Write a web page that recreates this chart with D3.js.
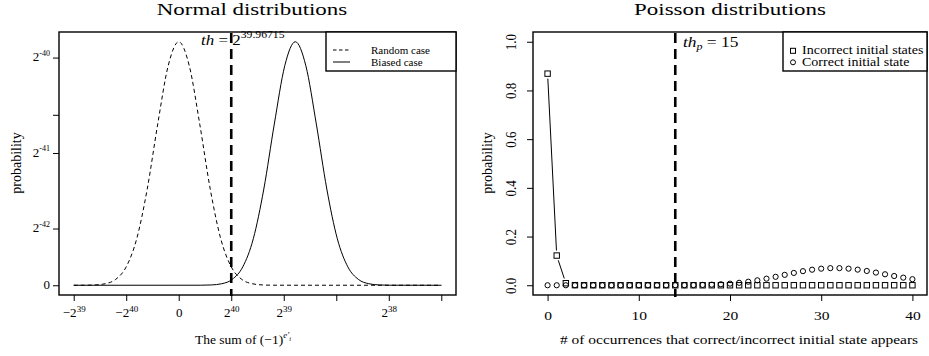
<!DOCTYPE html>
<html>
<head>
<meta charset="utf-8">
<script src="https://cdn.jsdelivr.net/npm/d3@7"></script>
<style>
body { margin: 0; background: #fff; }
svg text { font-family: "Liberation Serif", serif; fill: #000; }
</style>
</head>
<body>
<div id="chart"></div>
<script>
// left panel: normal curves, heights as a fraction of the peak
var randomX = [-2, -1.8, -1.6, -1.4, -1.2, -1.0, -0.8, -0.6, -0.4, -0.2, 0, 0.2, 0.4, 0.6, 0.8, 1.0, 1.2, 1.4, 1.6, 1.8, 5];
var randomY = [0, 0.0002, 0.0013, 0.0063, 0.0243, 0.0756, 0.191, 0.395, 0.662, 0.902, 1, 0.902, 0.662, 0.395, 0.191, 0.0756, 0.0243, 0.0063, 0.0013, 0.0002, 0];
var biasedX = [-2, 0.42, 0.62, 0.82, 1.02, 1.22, 1.42, 1.62, 1.82, 2.02, 2.22, 2.42, 2.62, 2.82, 3.02, 3.22, 3.42, 3.62, 3.82, 4.02, 5];
var biasedY = [0, 0.0002, 0.0013, 0.0063, 0.0243, 0.0756, 0.191, 0.395, 0.662, 0.902, 1, 0.902, 0.662, 0.395, 0.191, 0.0756, 0.0243, 0.0063, 0.0013, 0.0002, 0];
var normalThreshold = 1;
var normalXTicks = [-2, -1, 0, 1, 2, 3, 4, 5];
var normalXLabels = [['\u22122', '39'], ['\u22122', '40'], ['0', ''], ['2', '40'], ['2', '39'], ['', ''], ['2', '38'], ['', '']];
var normalYTicks = [0, 0.233, 0.543, 0.70, 0.935];
var normalYLabels = [['0', ''], ['2', '-42'], ['2', '-41'], ['', ''], ['2', '-40']];

// right panel: poisson probabilities
var occurrences = d3.range(0, 41);
var incorrectProb = [0.869, 0.122, 0.0085, 0.0004, 0, 0, 0, 0, 0, 0, 0, 0, 0, 0, 0, 0, 0, 0, 0, 0, 0,
    0, 0, 0, 0, 0, 0, 0, 0, 0, 0, 0, 0, 0, 0, 0, 0, 0, 0, 0, 0];
var correctProb = [0, 0, 0, 0, 0, 0, 0, 0, 0, 0, 0, 0, 0, 0, 0.0002, 0.0004, 0.0007, 0.0014, 0.0025, 0.0041,
    0.0066, 0.0101, 0.0146, 0.0203, 0.0271, 0.0347, 0.0427, 0.0506, 0.0579, 0.0639, 0.0681,
    0.0703, 0.0703, 0.0682, 0.0642, 0.0587, 0.0521, 0.0451, 0.0380, 0.0312, 0.0249];
var poissonThreshold = 14;
var poissonXTicks = [0, 10, 20, 30, 40];
var poissonYTicks = [0, 0.2, 0.4, 0.6, 0.8, 1.0];

var svg = d3.select('#chart')
    .append('svg')
    .attr('width', 929)
    .attr('height', 356);

function drawBox(x0, y0, x1, y1) {
    svg.append('rect')
        .attr('x', x0).attr('y', y0)
        .attr('width', x1 - x0).attr('height', y1 - y0)
        .attr('fill', 'none')
        .attr('stroke', '#000')
        .attr('stroke-width', 1.4);
}

// the reference text is wider than Times, so widen it round its anchor
function stretch(sel, k) {
    var x = +sel.attr('x') || 0, y = +sel.attr('y') || 0;
    sel.attr('transform', 'translate(' + x + ',' + y + ') scale(' + k + ',1) translate(' + (-x) + ',' + (-y) + ')');
    return sel;
}

// label with a superscript part
function supLabel(sel, base, sup, size, supSize) {
    sel.text(null);
    sel.append('tspan').attr('font-size', size).text(base);
    if (sup !== '') {
        sel.append('tspan').attr('font-size', supSize).attr('dy', -size * 0.42).text(sup);
    }
}

// ---------- left panel ----------
var lx = d3.scaleLinear().domain([-2.28, 5.28]).range([59, 456]);
var ly = d3.scaleLinear().domain([-0.04, 1.04]).range([295, 32]);

var gx = svg.append('g')
    .attr('transform', 'translate(0,295)')
    .call(d3.axisBottom(lx).tickValues(normalXTicks).tickSize(6).tickPadding(9).tickFormat(''));
gx.select('.domain').remove();
gx.selectAll('.tick text').each(function(d, i) {
    supLabel(d3.select(this), normalXLabels[i][0], normalXLabels[i][1], 13, 9);
});

var gy = svg.append('g')
    .attr('transform', 'translate(59,0)')
    .call(d3.axisLeft(ly).tickValues(normalYTicks).tickSize(6).tickPadding(3).tickFormat(''));
gy.select('.domain').remove();
gy.selectAll('.tick text').each(function(d, i) {
    supLabel(d3.select(this), normalYLabels[i][0], normalYLabels[i][1], 13, 8);
});

var curve = d3.line()
    .x(function(d) { return lx(d[0]); })
    .y(function(d) { return ly(d[1]); })
    .curve(d3.curveMonotoneX);

svg.append('path')
    .attr('d', curve(d3.zip(randomX, randomY)))
    .attr('fill', 'none')
    .attr('stroke', '#000')
    .attr('stroke-width', 1)
    .attr('stroke-dasharray', '4,3');

svg.append('path')
    .attr('d', curve(d3.zip(biasedX, biasedY)))
    .attr('fill', 'none')
    .attr('stroke', '#000')
    .attr('stroke-width', 1);

svg.append('line')
    .attr('x1', lx(normalThreshold)).attr('x2', lx(normalThreshold))
    .attr('y1', 33).attr('y2', 296)
    .attr('stroke', '#000')
    .attr('stroke-width', 2.6)
    .attr('stroke-dasharray', '10,6');

drawBox(59, 32, 456, 295);

var th = svg.append('text').attr('x', 201).attr('y', 45).attr('font-size', 14.5);
th.append('tspan').attr('font-style', 'italic').text('th');
th.append('tspan').text(' = 2');
th.append('tspan').attr('font-size', 10).attr('dy', -6.5).text('39.96715');
stretch(th, 1.17);

// legend
svg.append('rect')
    .attr('x', 326).attr('y', 32).attr('width', 130).attr('height', 39)
    .attr('fill', '#fff').attr('stroke', '#000').attr('stroke-width', 1.4);
svg.append('line')
    .attr('x1', 333).attr('x2', 350).attr('y1', 50).attr('y2', 50)
    .attr('stroke', '#000').attr('stroke-dasharray', '3.5,2.5');
svg.append('line')
    .attr('x1', 333).attr('x2', 350).attr('y1', 62).attr('y2', 62)
    .attr('stroke', '#000');
svg.append('text').attr('x', 371).attr('y', 53.8).attr('font-size', 11).text('Random case');
svg.append('text').attr('x', 371).attr('y', 65.8).attr('font-size', 11).text('Biased case');

stretch(svg.append('text')
    .attr('x', 252).attr('y', 15)
    .attr('text-anchor', 'middle')
    .attr('font-size', 17)
    .text('Normal distributions'), 1.35);

var xl = svg.append('text').attr('x', 195).attr('y', 344).attr('font-size', 13.5);
xl.append('tspan').text('The sum of (\u22121)');
xl.append('tspan').attr('font-size', 9).attr('font-style', 'italic').attr('dy', -6).text('e\u2032');
xl.append('tspan').attr('font-size', 6.5).attr('font-style', 'italic').attr('dy', 3).text('i');

svg.append('text')
    .attr('transform', 'translate(21,163) rotate(-90)')
    .attr('text-anchor', 'middle')
    .attr('font-size', 14)
    .text('probability');

// ---------- right panel ----------
var rx = d3.scaleLinear().domain([-1.6, 41.6]).range([533, 927]);
var ry = d3.scaleLinear().domain([-0.04, 1.04]).range([295, 32]);

var rgx = svg.append('g')
    .attr('transform', 'translate(0,295)')
    .call(d3.axisBottom(rx).tickValues(poissonXTicks).tickSize(6).tickPadding(9).tickFormat(d3.format('d')));
rgx.select('.domain').remove();
rgx.selectAll('.tick text')
    .attr('font-size', 13.5)
    .attr('transform', 'scale(1.15,1)');

var rgy = svg.append('g')
    .attr('transform', 'translate(533,0)')
    .call(d3.axisLeft(ry).tickValues(poissonYTicks).tickSize(6).tickFormat(d3.format('.1f')));
rgy.select('.domain').remove();
rgy.selectAll('.tick text')
    .attr('font-size', 13)
    .attr('x', null).attr('dy', null)
    .attr('text-anchor', 'middle')
    .attr('transform', 'translate(-17,0) rotate(-90) scale(1,1.15)');

svg.append('line')
    .attr('x1', rx(poissonThreshold)).attr('x2', rx(poissonThreshold))
    .attr('y1', 33).attr('y2', 297)
    .attr('stroke', '#000')
    .attr('stroke-width', 2.6)
    .attr('stroke-dasharray', '10,6');

// lines between points (R type "b": gap round each symbol)
function gapLines(values) {
    var gap = 5;
    for (var i = 0; i < values.length - 1; i++) {
        var x1 = rx(occurrences[i]), y1 = ry(values[i]);
        var x2 = rx(occurrences[i + 1]), y2 = ry(values[i + 1]);
        var len = Math.sqrt((x2 - x1) * (x2 - x1) + (y2 - y1) * (y2 - y1));
        if (len > 2 * gap + 1) {
            var ux = (x2 - x1) / len, uy = (y2 - y1) / len;
            svg.append('line')
                .attr('x1', x1 + ux * gap).attr('y1', y1 + uy * gap)
                .attr('x2', x2 - ux * gap).attr('y2', y2 - uy * gap)
                .attr('stroke', '#000').attr('stroke-width', 1);
        }
    }
}
gapLines(incorrectProb);
gapLines(correctProb);

svg.append('g')
    .selectAll('circle')
    .data(correctProb)
    .enter()
    .append('circle')
    .attr('cx', function(d, i) { return rx(occurrences[i]); })
    .attr('cy', function(d) { return ry(d); })
    .attr('r', 2.6)
    .attr('fill', 'none')
    .attr('stroke', '#000')
    .attr('stroke-width', 1);

svg.append('g')
    .selectAll('rect')
    .data(incorrectProb)
    .enter()
    .append('rect')
    .attr('x', function(d, i) { return rx(occurrences[i]) - 2.7; })
    .attr('y', function(d) { return ry(d) - 2.7; })
    .attr('width', 5.4)
    .attr('height', 5.4)
    .attr('fill', 'none')
    .attr('stroke', '#000')
    .attr('stroke-width', 1);

drawBox(533, 32, 927, 295);

var thp = svg.append('text').attr('x', 683).attr('y', 47).attr('font-size', 14.5);
thp.append('tspan').attr('font-style', 'italic').text('th');
thp.append('tspan').attr('font-style', 'italic').attr('font-size', 10).attr('dy', 3).text('p');
thp.append('tspan').attr('dy', -3).text(' = 15');
stretch(thp, 1.2);

// legend
svg.append('rect')
    .attr('x', 783).attr('y', 32).attr('width', 144).attr('height', 39)
    .attr('fill', '#fff').attr('stroke', '#000').attr('stroke-width', 1.4);
svg.append('rect')
    .attr('x', 790.5).attr('y', 48.3).attr('width', 5).attr('height', 5)
    .attr('fill', 'none').attr('stroke', '#000');
svg.append('circle')
    .attr('cx', 793).attr('cy', 62.3).attr('r', 2.5)
    .attr('fill', 'none').attr('stroke', '#000');
stretch(svg.append('text').attr('x', 802).attr('y', 54.5).attr('font-size', 11.5).text('Incorrect initial states'), 1.22);
stretch(svg.append('text').attr('x', 802).attr('y', 66.2).attr('font-size', 11.5).text('Correct initial state'), 1.22);

stretch(svg.append('text')
    .attr('x', 730).attr('y', 15)
    .attr('text-anchor', 'middle')
    .attr('font-size', 17)
    .text('Poisson distributions'), 1.35);

stretch(svg.append('text')
    .attr('x', 560).attr('y', 344)
    .attr('font-size', 13)
    .text('# of occurrences that correct/incorrect initial state appears'), 1.19);

svg.append('text')
    .attr('transform', 'translate(492,163) rotate(-90)')
    .attr('text-anchor', 'middle')
    .attr('font-size', 14)
    .text('probability');

svg.selectAll('.tick line').attr('stroke', '#000');
svg.selectAll('.tick text').attr('font-family', '"Liberation Serif", serif').attr('fill', '#000');
</script>
</body>
</html>
